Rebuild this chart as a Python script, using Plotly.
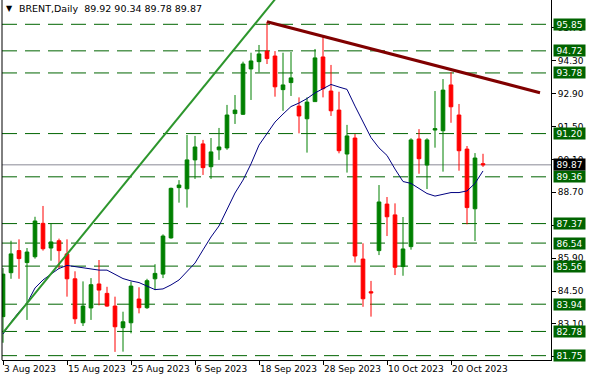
import plotly.graph_objects as go
import pandas as pd

# ---------------- data ----------------
dates = ["2023-08-03", "2023-08-04", "2023-08-07", "2023-08-08", "2023-08-09", "2023-08-10",
         "2023-08-11", "2023-08-14", "2023-08-15", "2023-08-16", "2023-08-17", "2023-08-18",
         "2023-08-21", "2023-08-22", "2023-08-23", "2023-08-24", "2023-08-25", "2023-08-28",
         "2023-08-29", "2023-08-30", "2023-08-31", "2023-09-01", "2023-09-04", "2023-09-05",
         "2023-09-06", "2023-09-07", "2023-09-08", "2023-09-11", "2023-09-12", "2023-09-13",
         "2023-09-14", "2023-09-15", "2023-09-18", "2023-09-19", "2023-09-20", "2023-09-21",
         "2023-09-22", "2023-09-25", "2023-09-26", "2023-09-27", "2023-09-28", "2023-09-29",
         "2023-10-02", "2023-10-03", "2023-10-04", "2023-10-05", "2023-10-06", "2023-10-09",
         "2023-10-10", "2023-10-11", "2023-10-12", "2023-10-13", "2023-10-16", "2023-10-17",
         "2023-10-18", "2023-10-19", "2023-10-20", "2023-10-23", "2023-10-24", "2023-10-25",
         "2023-10-26"]

opens = [83.41, 85.28, 86.22, 85.71, 85.96, 87.38, 86.33, 86.64, 86.08, 85.02, 83.15, 83.78,
         84.80, 84.40, 83.86, 82.94, 83.15, 84.16, 83.79, 85.02, 85.22, 86.76, 88.90, 88.85,
         90.08, 90.76, 89.79, 90.51, 90.59, 92.05, 92.02, 93.95, 94.26, 94.71, 94.50, 93.07,
         93.37, 92.37, 91.83, 92.56, 94.46, 93.01, 92.20, 90.33, 91.01, 85.86, 84.47, 86.22,
         88.20, 87.74, 85.54, 86.39, 90.97, 89.86, 91.35, 91.32, 93.27, 91.99, 90.54, 88.00,
         89.92]
highs = [85.48, 86.64, 86.70, 86.33, 87.66, 88.12, 87.38, 86.73, 86.70, 85.34, 84.91, 85.05,
         85.82, 84.68, 84.26, 83.62, 84.90, 84.66, 85.02, 85.64, 86.91, 88.90, 89.22, 91.14,
         91.10, 90.93, 91.01, 91.44, 92.42, 92.84, 94.26, 94.64, 94.97, 95.96, 94.71, 94.64,
         94.67, 92.74, 92.74, 94.80, 95.32, 94.12, 92.98, 91.57, 91.18, 86.53, 84.93, 89.01,
         88.50, 88.23, 87.65, 91.00, 91.39, 91.00, 93.01, 93.52, 93.81, 92.46, 90.67, 90.37,
         90.34]
lows = [82.30, 85.02, 85.02, 83.27, 85.88, 86.22, 85.79, 85.45, 84.26, 83.10, 83.01, 83.27,
        83.89, 83.83, 81.91, 81.92, 82.70, 83.55, 83.74, 84.54, 85.05, 86.73, 88.26, 88.05,
        89.27, 89.44, 89.27, 90.08, 90.51, 91.61, 91.99, 92.63, 93.81, 94.16, 92.77, 92.17,
        92.80, 91.21, 90.39, 92.56, 92.74, 91.95, 90.36, 89.54, 85.71, 83.83, 83.41, 86.03,
        86.84, 85.18, 85.15, 86.26, 89.49, 88.84, 90.60, 89.58, 91.66, 89.62, 87.34, 86.63,
        89.78]
closes = [85.22, 86.08, 85.88, 86.16, 87.48, 86.30, 86.59, 86.22, 85.02, 83.32, 83.86, 84.77,
          84.54, 83.86, 82.98, 83.19, 84.71, 83.79, 84.94, 85.25, 86.84, 88.87, 89.01, 90.08,
          90.63, 89.75, 90.42, 90.63, 91.99, 92.20, 94.16, 94.29, 94.59, 94.39, 93.19, 93.27,
          93.57, 91.95, 92.54, 94.42, 93.11, 92.17, 90.47, 91.10, 85.99, 84.17, 84.42, 88.29,
          87.66, 85.51, 86.29, 90.93, 90.13, 90.93, 91.41, 93.05, 92.34, 90.47, 88.05, 90.16,
          89.87]
ma_values = [82.67, 83.18, 83.61, 83.98, 84.63, 84.97, 85.22, 85.46, 85.59, 85.54, 85.49, 85.46,
             85.39, 85.39, 85.22, 85.03, 84.93, 84.86, 84.71, 84.56, 84.59, 84.76, 84.97, 85.31,
             85.69, 86.25, 86.80, 87.27, 87.95, 88.67, 89.22, 89.91, 90.71, 91.22, 91.69, 92.03,
             92.35, 92.50, 92.69, 92.93, 93.12, 93.29, 93.18, 93.08, 92.37, 91.69, 91.03, 90.59,
             90.27, 89.69, 89.16, 89.08, 88.88, 88.65, 88.54, 88.63, 88.69, 88.69, 88.76, 89.08,
             89.61]

# horizontal levels
levels = [95.85, 94.72, 93.78, 91.20, 89.36, 87.37, 86.54, 85.56, 83.94, 82.78, 81.75]
# trendlines (bar index, price)
trend_up_x = [0, 34]
trend_up_y = [82.73, 96.91]
trend_down_x = [33, 67.125]
trend_down_y = [95.96, 92.94]

tick_every = 8
symbol = "BRENT,Daily"

# ---------------- figure ----------------
xs = list(range(len(dates)))
FONT = "DejaVu Sans"
GREEN = "#008000"
LEVEL_GREEN = "#006400"

fig = go.Figure()

for lv in levels:
    fig.add_shape(type="line", xref="paper", x0=0, x1=1, yref="y", y0=lv, y1=lv,
                  line=dict(color=LEVEL_GREEN, width=1, dash="15px,8px"), layer="below")

# current price line
fig.add_shape(type="line", xref="paper", x0=0, x1=1, yref="y", y0=closes[-1], y1=closes[-1],
              line=dict(color="#8a8a96", width=1), layer="below")

fig.add_trace(go.Candlestick(
    x=xs, open=opens, high=highs, low=lows, close=closes,
    increasing=dict(line=dict(color=GREEN, width=1), fillcolor=GREEN),
    decreasing=dict(line=dict(color="#FF0000", width=1), fillcolor="#FF0000"),
    whiskerwidth=0, showlegend=False, hoverinfo="skip"))

fig.add_trace(go.Scatter(x=xs, y=ma_values, mode="lines",
                         line=dict(color="#000080", width=1), showlegend=False, hoverinfo="skip"))
fig.add_trace(go.Scatter(x=trend_up_x, y=trend_up_y, mode="lines",
                         line=dict(color="#2d962d", width=2), showlegend=False, hoverinfo="skip"))
fig.add_trace(go.Scatter(x=trend_down_x, y=trend_down_y, mode="lines",
                         line=dict(color="#800000", width=3), showlegend=False, hoverinfo="skip"))

# level labels on the right
for lv in levels:
    fig.add_annotation(x=1, xref="paper", xanchor="left", xshift=2, y=lv, yref="y",
                       text=f"{lv:.2f}", showarrow=False, bgcolor=LEVEL_GREEN,
                       font=dict(family=FONT, size=9, color="white"),
                       width=31, height=11, borderpad=0, align="center")
fig.add_annotation(x=1, xref="paper", xanchor="left", xshift=2, y=closes[-1], yref="y",
                   text=f"{closes[-1]:.2f}", showarrow=False, bgcolor="#000000",
                   font=dict(family=FONT, size=9, color="white"),
                   width=31, height=11, borderpad=0, align="center")

# header
fig.add_annotation(x=0, xref="paper", xanchor="left", xshift=2, y=1, yref="paper", yanchor="top",
                   yshift=-2, text="▼", showarrow=False, font=dict(family=FONT, size=8, color="black"))
fig.add_annotation(x=0, xref="paper", xanchor="left", xshift=15, y=1, yref="paper", yanchor="top",
                   yshift=-1,
                   text=f"{symbol}  {opens[-1]:.2f} {highs[-1]:.2f} {lows[-1]:.2f} {closes[-1]:.2f}",
                   showarrow=False, font=dict(family=FONT, size=9.5, color="black"))

# left border
fig.add_shape(type="line", xref="paper", x0=0, x1=0, yref="paper", y0=0, y1=1,
              line=dict(color="black", width=1))

tickvals = xs[::tick_every]
ticktext = [pd.Timestamp(dates[i]).strftime("%-d %b %Y") for i in tickvals]

fig.update_layout(
    width=591, height=381,
    margin=dict(l=2, r=40, t=0, b=21),
    paper_bgcolor="white", plot_bgcolor="white",
    boxgap=0.35,
    font=dict(family=FONT, size=9, color="black"),
    xaxis=dict(range=[-0.125, 68.5], tickvals=tickvals, ticktext=ticktext, tickangle=0,
               automargin=False,
               ticks="outside", ticklen=4, tickcolor="black", showgrid=False, zeroline=False,
               showline=True, linecolor="black", linewidth=1,
               ticklabelposition="outside right", rangeslider=dict(visible=False),
               tickfont=dict(family=FONT, size=9, color="black")),
    yaxis=dict(range=[81.565, 96.884], side="right", tick0=81.7, dtick=1.4, tickformat=".2f",
               automargin=False,
               ticks="outside", ticklen=4, tickcolor="black", showgrid=False, zeroline=False,
               showline=True, linecolor="black", linewidth=1,
               tickfont=dict(family=FONT, size=9, color="black")),
)

fig.write_html("out.html")
